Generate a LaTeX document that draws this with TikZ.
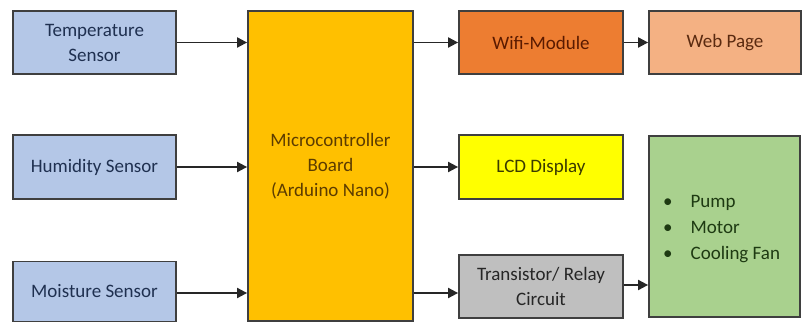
\documentclass[tikz,border=0pt]{standalone}
\usepackage{fontspec}
\setmainfont{Carlito}
\usetikzlibrary{arrows.meta}
\definecolor{sensorfill}{HTML}{B4C7E7}
\definecolor{sensortext}{HTML}{1F3050}
\definecolor{mcufill}{HTML}{FFC000}
\definecolor{mcutext}{HTML}{5C3C00}
\definecolor{wififill}{HTML}{ED7D31}
\definecolor{wifitext}{HTML}{5A1A00}
\definecolor{webfill}{HTML}{F4B183}
\definecolor{webtext}{HTML}{5A2A10}
\definecolor{lcdfill}{HTML}{FFFF00}
\definecolor{lcdtext}{HTML}{3A3A00}
\definecolor{trfill}{HTML}{BFBFBF}
\definecolor{trtext}{HTML}{262626}
\definecolor{greenfill}{HTML}{A9D18E}
\definecolor{greentext}{HTML}{1E3A12}
\definecolor{edge}{HTML}{3F3F3F}
\tikzset{
  blk/.style={draw=edge, line width=1.8pt, inner sep=0pt, align=center,
    font=\fontsize{19}{25}\selectfont},
  conn/.style={line width=1.9pt, black!85, -{Triangle[length=10pt,width=10pt]}},
}
\begin{document}
\begin{tikzpicture}[x=1pt,y=-1pt]
\useasboundingbox (0,0) rectangle (803,323);
\fill[white] (0,0) rectangle (803,323);
% left column
\node[blk, fill=sensorfill, text=sensortext, minimum width=163pt, minimum height=63pt] (temp) at (94.5,42.5) {Temperature\\Sensor};
\node[blk, fill=sensorfill, text=sensortext, minimum width=163pt, minimum height=64pt] (hum) at (94.5,167) {Humidity Sensor};
\node[blk, fill=sensorfill, text=sensortext, minimum width=163pt, minimum height=60pt] (moist) at (94.5,291.5) {Moisture Sensor};
% controller
\node[blk, fill=mcufill, text=mcutext, minimum width=165pt, minimum height=310pt] (mcu) at (330.5,166) {Microcontroller\\Board\\(Arduino Nano)};
% outputs
\node[blk, fill=wififill, text=wifitext, minimum width=164pt, minimum height=63pt] (wifi) at (541,42.5) {Wifi-Module};
\node[blk, fill=webfill, text=webtext, minimum width=152pt, minimum height=63pt] (web) at (725,42.5) {Web Page};
\node[blk, fill=lcdfill, text=lcdtext, minimum width=164pt, minimum height=64pt] (lcd) at (541,167) {LCD Display};
\node[blk, fill=trfill, text=trtext, minimum width=164pt, minimum height=63pt] (tr) at (541,286.5) {Transistor/ Relay\\Circuit};
\node[blk, fill=greenfill, text=greentext, minimum width=151pt, minimum height=181pt] (load) at (724.5,226.5) {};
\node[anchor=west, inner sep=0pt, text=greentext, font=\fontsize{19}{26}\selectfont] (items) at (663,228)
  {\begin{tabular}{@{}l@{\hspace{18pt}}l@{}}\textbullet & Pump\\ \textbullet & Motor\\ \textbullet & Cooling Fan\end{tabular}};
% connectors
\draw[conn] (temp.east) -- (temp.east -| mcu.west);
\draw[conn] (hum.east) -- (hum.east -| mcu.west);
\draw[conn] ([yshift=-1.5pt]moist.east) -- ([yshift=-1.5pt]moist.east -| mcu.west);
\draw[conn] (mcu.east |- wifi.west) -- (wifi.west);
\draw[conn] (wifi.east) -- (web.west);
\draw[conn] (mcu.east |- lcd.west) -- (lcd.west);
\draw[conn] ([yshift=-6.5pt]mcu.east |- tr.west) -- ([yshift=-6.5pt]tr.west);
\draw[conn] ([yshift=1.5pt]tr.east) -- ([yshift=1.5pt]tr.east -| load.west);
\end{tikzpicture}
\end{document}
